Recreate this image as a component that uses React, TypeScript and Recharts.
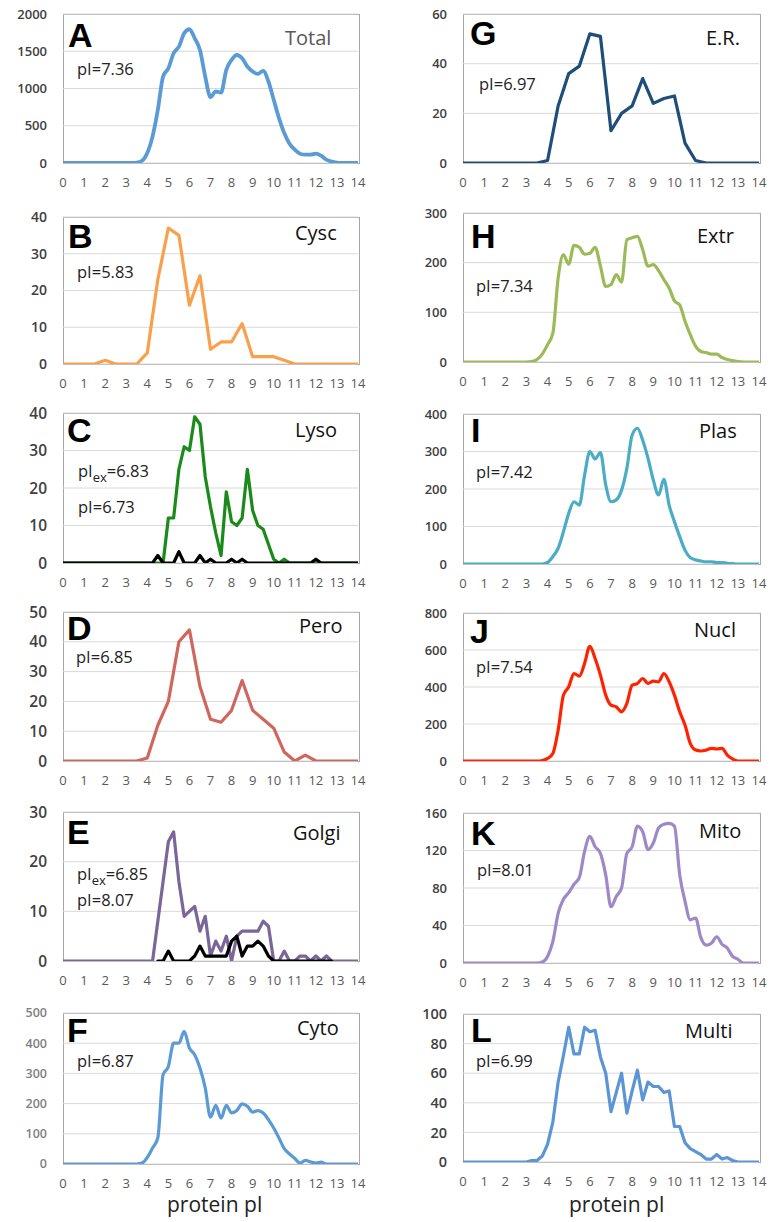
import React from "react";
import { LineChart, Line, XAxis, YAxis, CartesianGrid } from "recharts";

// pI positions
const halfPI = [0, 0.5, 1, 1.5, 2, 2.5, 3, 3.5, 4, 4.5, 5, 5.5, 6, 6.5, 7, 7.5, 8, 8.5, 9, 9.5, 10, 10.5, 11, 11.5, 12, 12.5, 13, 13.5, 14];
const quarterPI = [
  0, 3,
  3.25, 3.5, 3.75, 4,
  4.25, 4.5, 4.75, 5,
  5.25, 5.5, 5.75, 6,
  6.25, 6.5, 6.75, 7,
  7.25, 7.5, 7.75, 8,
  8.25, 8.5, 8.75, 9,
  9.25, 9.5, 9.75, 10,
  10.25, 10.5, 10.75, 11,
  11.25, 11.5, 11.75, 12,
  12.25, 12.5, 12.75, 13,
  13.25, 13.5, 14,
];
const pITicks = [0, 1, 2, 3, 4, 5, 6, 7, 8, 9, 10, 11, 12, 13, 14];

// protein counts per pI bin
const total = [
  0, 0,
  0, 5, 30, 134,
  357, 714, 1160, 1272,
  1473, 1562, 1741, 1795,
  1674, 1518, 1160, 884,
  960, 946, 1250, 1384,
  1450, 1406, 1295, 1228,
  1196, 1237, 1094, 848,
  603, 402, 259, 179,
  125, 112, 112, 125,
  98, 45, 18, 5,
  0, 0, 0,
];
const er = [0, 0, 0, 0, 0, 0, 0, 0, 1, 23, 36, 39, 52, 51, 13, 20, 23, 34, 24, 26, 27, 8, 1, 0, 0, 0, 0, 0, 0];
const cysc = [0, 0, 0, 0, 1, 0, 0, 0, 3, 23, 37, 35, 16, 24, 4, 6, 6, 11, 2, 2, 2, 1, 0, 0, 0, 0, 0, 0, 0];
const extr = [
  0, 0,
  1, 5, 16, 35,
  58, 169, 216, 197,
  235, 231, 217, 219,
  231, 193, 152, 156,
  176, 161, 246, 250,
  253, 226, 193, 196,
  184, 166, 149, 123,
  115, 82, 55, 32,
  21, 19, 16, 16,
  9, 5, 3, 1,
  0, 0, 0,
];
const lyso = [
  0, 0,
  0, 0, 0, 0,
  0, 0, 0, 12,
  12, 25, 31, 30,
  39, 37, 23, 15,
  8, 2, 19, 11,
  10, 12, 25, 14,
  10, 9, 5, 1,
  0, 1, 0, 0,
  0, 0, 0, 0,
  0, 0, 0, 0,
  0, 0, 0,
];
const lysoEx = [
  0, 0,
  0, 0, 0, 0,
  0, 2, 0, 0,
  0, 3, 0, 0,
  0, 2, 0, 1,
  0, 0, 0, 1,
  0, 1, 0, 0,
  0, 0, 0, 0,
  0, 0, 0, 0,
  0, 0, 0, 1,
  0, 0, 0, 0,
  0, 0, 0,
];
const plas = [
  0, 0,
  0, 0, 0, 4,
  20, 42, 86, 135,
  166, 157, 237, 300,
  280, 297, 211, 166,
  171, 197, 255, 344,
  362, 330, 282, 224,
  184, 226, 157, 113,
  73, 37, 17, 11,
  8, 6, 6, 4,
  4, 2, 1, 0,
  0, 0, 0,
];
const pero = [0, 0, 0, 0, 0, 0, 0, 0, 1, 12, 20, 40, 44, 25, 14, 13, 17, 27, 17, 14, 11, 3, 0, 2, 0, 0, 0, 0, 0];
const nucl = [
  0, 0,
  0, 0, 3, 14,
  41, 167, 356, 401,
  473, 459, 527, 620,
  554, 464, 356, 302,
  293, 266, 311, 410,
  419, 446, 419, 432,
  428, 473, 428, 356,
  266, 194, 95, 59,
  54, 59, 68, 65,
  68, 32, 11, 0,
  0, 0, 0,
];
const golgi = [
  0, 0,
  0, 0, 0, 0,
  0, 8, 16, 24,
  26, 16, 9, 10,
  11, 6, 9, 1,
  4, 2, 5, 0,
  5, 6, 6, 6,
  6, 8, 7, 0,
  0, 2, 0, 0,
  1, 1, 0, 1,
  0, 1, 0, 0,
  0, 0, 0,
];
const golgiEx = [
  null, null,
  null, null, null, null,
  null, 0, 0, 2,
  0, 0, 0, 0,
  1, 3, 1, 1,
  1, 1, 1, 4,
  5, 1, 3, 3,
  4, 3, 1, 0,
  0, 0, 0, 0,
  0, 0, 0, 0,
  0, 0, 0, null,
  null, null, null,
];
const mito = [
  0, 0,
  0, 0, 1, 7,
  23, 53, 68, 75,
  84, 91, 119, 135,
  124, 117, 94, 60,
  71, 80, 117, 124,
  146, 140, 121, 128,
  144, 148, 149, 146,
  94, 66, 46, 48,
  27, 19, 21, 28,
  20, 16, 7, 4,
  0, 0, 0,
];
const cyto = [
  0, 0,
  0, 0, 3, 22,
  53, 86, 296, 323,
  400, 400, 439, 384,
  362, 318, 252, 155,
  194, 152, 194, 169,
  177, 199, 191, 172,
  177, 169, 147, 119,
  86, 51, 33, 18,
  3, 12, 7, 3,
  6, 0, 0, 0,
  0, 0, 0,
];
const multi = [
  0, 0,
  1, 1, 4, 12,
  27, 54, 72, 91,
  73, 73, 91, 88,
  89, 71, 60, 34,
  47, 60, 33, 48,
  62, 42, 54, 51,
  51, 47, 48, 24,
  24, 13, 9, 7,
  5, 2, 2, 5,
  2, 3, 1, 0,
  0, 0, 0,
];

const FONT = "'Open Sans', 'DejaVu Sans', sans-serif";
const LETTER_FONT = "'Liberation Sans', Arial, sans-serif";

type Series = { values: (number | null)[]; color: string };
type Note = { text: string; sub?: string; rest?: string; x: number; y: number };
type PanelCfg = {
  col: 0 | 1;
  top: number;
  bottom: number;
  yMax: number;
  yTicks: number[];
  xs: number[];
  series: Series[];
  smooth: boolean;
  width?: number;
  yFont?: number;
  yFill?: string;
  letter: { text: string; x: number; y: number };
  name: { text: string; x: number; y: number; fill?: string };
  notes: Note[];
};

const panels: PanelCfg[] = [
  {
    col: 0, top: 14, bottom: 163, yMax: 2000, yTicks: [0, 500, 1000, 1500, 2000], xs: quarterPI, smooth: true, width: 3.8,
    series: [{ values: total, color: "#5b9bd5" }],
    letter: { text: "A", x: 68, y: 47 }, name: { text: "Total", x: 285, y: 45, fill: "#595959" },
    notes: [{ text: "pI=7.36", x: 77, y: 75 }],
  },
  {
    col: 1, top: 14, bottom: 163, yMax: 60, yTicks: [0, 20, 40, 60], xs: halfPI, smooth: false,
    series: [{ values: er, color: "#1f4e79" }],
    letter: { text: "G", x: 470, y: 45 }, name: { text: "E.R.", x: 706, y: 45 },
    notes: [{ text: "pI=6.97", x: 479, y: 90 }],
  },
  {
    col: 0, top: 217, bottom: 364, yMax: 40, yTicks: [0, 10, 20, 30, 40], xs: halfPI, smooth: false, yFont: 14,
    series: [{ values: cysc, color: "#f8a04c" }],
    letter: { text: "B", x: 68, y: 248 }, name: { text: "Cysc", x: 295, y: 240 },
    notes: [{ text: "pI=5.83", x: 77, y: 278 }],
  },
  {
    col: 1, top: 213, bottom: 362, yMax: 300, yTicks: [0, 100, 200, 300], xs: quarterPI, smooth: true,
    series: [{ values: extr, color: "#9bbb59" }],
    letter: { text: "H", x: 471, y: 248 }, name: { text: "Extr", x: 697, y: 243 },
    notes: [{ text: "pI=7.34", x: 476, y: 292 }],
  },
  {
    col: 0, top: 413, bottom: 563, yMax: 40, yTicks: [0, 10, 20, 30, 40], xs: quarterPI, smooth: false, yFont: 15.5,
    series: [{ values: lyso, color: "#1a8a1a" }, { values: lysoEx, color: "#000000" }],
    letter: { text: "C", x: 67, y: 442 }, name: { text: "Lyso", x: 295, y: 437 },
    notes: [{ text: "pI", sub: "ex", rest: "=6.83", x: 78, y: 477 }, { text: "pI=6.73", x: 78, y: 513 }],
  },
  {
    col: 1, top: 414, bottom: 564, yMax: 400, yTicks: [0, 100, 200, 300, 400], xs: quarterPI, smooth: true,
    series: [{ values: plas, color: "#4bacc6" }],
    letter: { text: "I", x: 471, y: 442 }, name: { text: "Plas", x: 699, y: 438 },
    notes: [{ text: "pI=7.42", x: 476, y: 478 }],
  },
  {
    col: 0, top: 612, bottom: 761, yMax: 50, yTicks: [0, 10, 20, 30, 40, 50], xs: halfPI, smooth: false, yFont: 15.5,
    series: [{ values: pero, color: "#d0675f" }],
    letter: { text: "D", x: 67, y: 640 }, name: { text: "Pero", x: 299, y: 633 },
    notes: [{ text: "pI=6.85", x: 76, y: 663 }],
  },
  {
    col: 1, top: 613, bottom: 761, yMax: 800, yTicks: [0, 200, 400, 600, 800], xs: quarterPI, smooth: true,
    series: [{ values: nucl, color: "#ff2200" }],
    letter: { text: "J", x: 470, y: 643 }, name: { text: "Nucl", x: 694, y: 637 },
    notes: [{ text: "pI=7.54", x: 476, y: 673 }],
  },
  {
    col: 0, top: 812, bottom: 961, yMax: 30, yTicks: [0, 10, 20, 30], xs: quarterPI, smooth: false, yFont: 15.5,
    series: [{ values: golgi, color: "#7b6699" }, { values: golgiEx, color: "#000000" }],
    letter: { text: "E", x: 67, y: 844 }, name: { text: "Golgi", x: 293, y: 840 },
    notes: [{ text: "pI", sub: "ex", rest: "=6.85", x: 77, y: 880 }, { text: "pI=8.07", x: 77, y: 906 }],
  },
  {
    col: 1, top: 813, bottom: 963, yMax: 160, yTicks: [0, 40, 80, 120, 160], xs: quarterPI, smooth: true,
    series: [{ values: mito, color: "#9f88c8" }],
    letter: { text: "K", x: 471, y: 845 }, name: { text: "Mito", x: 699, y: 838 },
    notes: [{ text: "pI=8.01", x: 477, y: 876 }],
  },
  {
    col: 0, top: 1013, bottom: 1164, yMax: 500, yTicks: [0, 100, 200, 300, 400, 500], xs: quarterPI, smooth: true, yFont: 12.5, yFill: "#7f7f7f",
    series: [{ values: cyto, color: "#5b9bd5" }],
    letter: { text: "F", x: 67, y: 1042 }, name: { text: "Cyto", x: 297, y: 1035 },
    notes: [{ text: "pI=6.87", x: 77, y: 1067 }],
  },
  {
    col: 1, top: 1014, bottom: 1162, yMax: 100, yTicks: [0, 20, 40, 60, 80, 100], xs: quarterPI, smooth: false, yFont: 14.5,
    series: [{ values: multi, color: "#5b95d5" }],
    letter: { text: "L", x: 471, y: 1042 }, name: { text: "Multi", x: 685, y: 1038 },
    notes: [{ text: "pI=6.99", x: 476, y: 1067 }],
  },
];

const zip = (xs: number[], ys: (number | null)[]) => xs.map((x, i) => ({ x, y: ys[i] }));

function Panel({ p }: { p: PanelCfg }) {
  const colLeft = p.col === 0 ? 0 : 384;
  const axisW = p.col === 0 ? 63 : 79;
  const plotW = p.col === 0 ? 295 : 296;
  const w = 385;
  const mTop = 10;
  const h = mTop + (p.bottom - p.top) + 30;
  return (
    <>
      {/* grey frame round the plot area, behind the chart */}
      <div
        style={{
          position: "absolute",
          left: colLeft + axisW,
          top: p.top,
          width: plotW + 2,
          height: p.bottom - p.top + 1,
          border: "1px solid #a6a6a6",
          boxSizing: "border-box",
        }}
      />
      <div style={{ position: "absolute", left: colLeft, top: p.top - mTop }}>
        <LineChart width={w} height={h} margin={{ top: mTop, right: w - axisW - plotW, bottom: 0, left: 0 }}>
          <CartesianGrid vertical={false} stroke="#d9d9d9" />
          <XAxis
            type="number"
            dataKey="x"
            domain={[0, 14]}
            ticks={pITicks}
            interval={0}
            allowDataOverflow
            tickLine={false}
            axisLine={false}
            height={30}
            tickMargin={9}
            tick={{ fontSize: 13, fill: "#595959", fontFamily: FONT }}
          />
          <YAxis
            type="number"
            domain={[0, p.yMax]}
            ticks={p.yTicks}
            interval={0}
            allowDataOverflow
            tickLine={false}
            axisLine={false}
            width={axisW}
            tickMargin={10}
            tick={{ fontSize: p.yFont ?? 13, fill: p.yFill ?? "#404040", fontFamily: FONT, fontWeight: 600 }}
          />
          {p.series.map((s, i) => (
            <Line
              key={i}
              data={zip(p.xs, s.values)}
              dataKey="y"
              type={p.smooth ? "monotone" : "linear"}
              stroke={s.color}
              strokeWidth={p.width ?? 3.2}
              strokeLinejoin="round"
              strokeLinecap="round"
              dot={false}
              activeDot={false}
              connectNulls={false}
              isAnimationActive={false}
            />
          ))}
        </LineChart>
      </div>
    </>
  );
}

export default function App() {
  return (
    <div style={{ position: "absolute", left: 0, top: 0, width: 769, height: 1222, background: "#fff", overflow: "hidden" }}>
      {panels.map((p, i) => (
        <Panel key={i} p={p} />
      ))}
      <svg width={769} height={1222} style={{ position: "absolute", left: 0, top: 0, pointerEvents: "none" }}>
        {panels.map((p, i) => (
          <g key={i}>
            <text x={p.letter.x} y={p.letter.y} fontFamily={LETTER_FONT} fontWeight="bold" fontSize={34} fill="#000">
              {p.letter.text}
            </text>
            <text x={p.name.x} y={p.name.y} fontFamily={FONT} fontSize={20} fill={p.name.fill ?? "#111"}>
              {p.name.text}
            </text>
            {p.notes.map((n, j) => (
              <text key={j} x={n.x} y={n.y} fontFamily={FONT} fontSize={16.5} fill="#222">
                {n.text}
                {n.sub && (
                  <tspan dy={5} fontSize={13}>
                    {n.sub}
                  </tspan>
                )}
                {n.rest && <tspan dy={-5}>{n.rest}</tspan>}
              </text>
            ))}
          </g>
        ))}
        <text x={167} y={1212} fontFamily={FONT} fontSize={21} fill="#222">
          protein pI
        </text>
        <text x={569} y={1212} fontFamily={FONT} fontSize={21} fill="#222">
          protein pI
        </text>
      </svg>
    </div>
  );
}
